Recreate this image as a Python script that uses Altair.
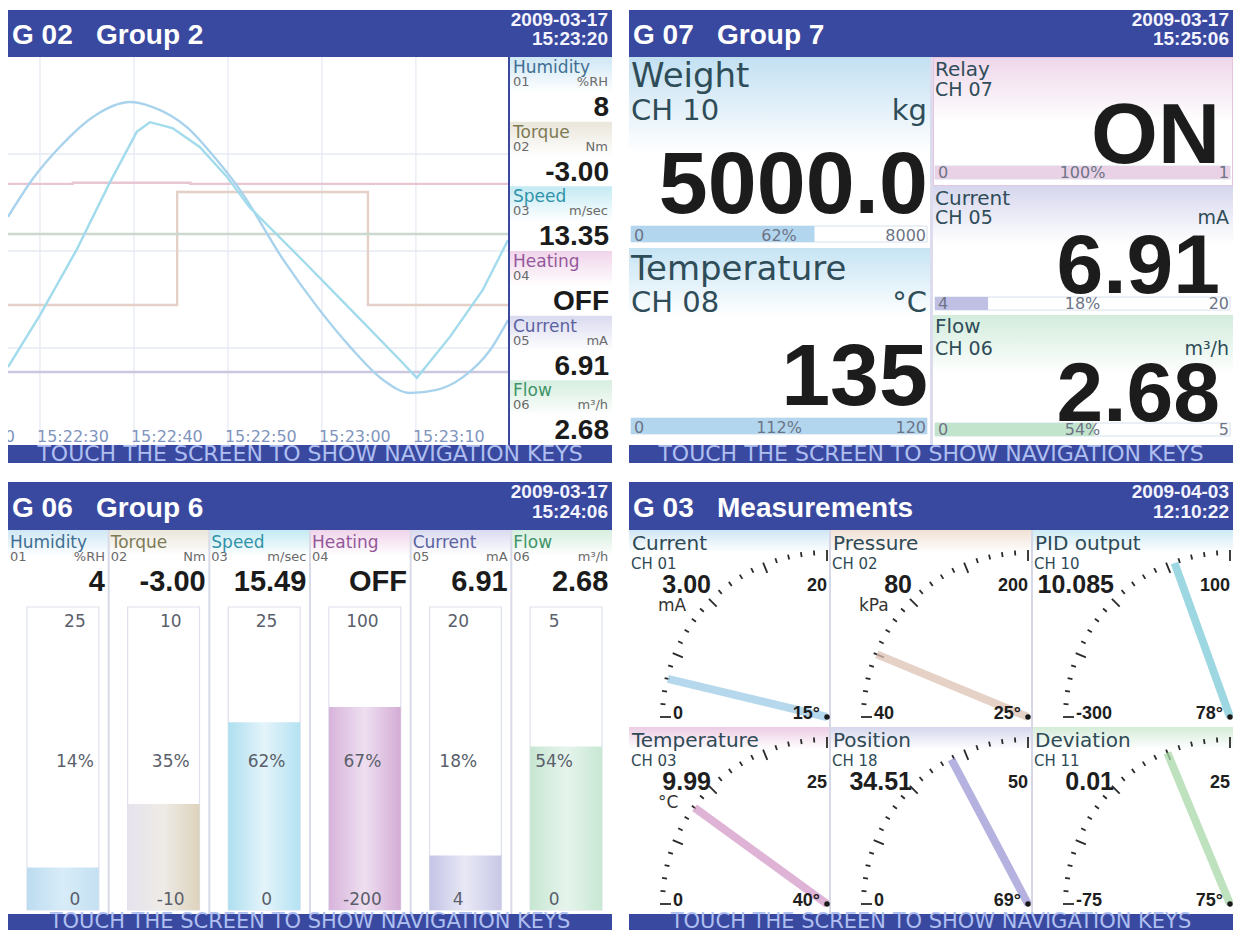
import altair as alt
import pandas as pd

# ============================== data ==============================
HEADERS = [("G 02", "Group 2", "2009-03-17", "15:23:20"),
           ("G 07", "Group 7", "2009-03-17", "15:25:06"),
           ("G 06", "Group 6", "2009-03-17", "15:24:06"),
           ("G 03", "Measurements", "2009-04-03", "12:10:22")]
FOOTER = "TOUCH THE SCREEN TO SHOW NAVIGATION KEYS"

CH_NAMES = ["Humidity", "Torque", "Speed", "Heating", "Current", "Flow"]
CH_NUMS = ["01", "02", "03", "04", "05", "06"]
CH_UNITS = ["%RH", "Nm", "m/sec", "", "mA", "m³/h"]

# --- G 02 trend (values in % of each channel span)
HUM_TIME = ["15:22:26.6", "15:22:29.3", "15:22:32.1", "15:22:35.6", "15:22:39.6", "15:22:42.0",
            "15:22:45.6", "15:22:48.8", "15:22:51.3", "15:22:55.9", "15:22:59.5", "15:23:03.0",
            "15:23:06.5", "15:23:09.4", "15:23:12.2", "15:23:15.0", "15:23:17.9", "15:23:19.8"]
HUM_PCT = [58.8, 68.8, 76.8, 84.5, 88.4, 87.1, 82.0, 73.5, 65.7, 47.7, 35.6, 25.3,
           16.8, 13.4, 14.2, 17.5, 24.5, 32.2]
SPD_TIME = ["15:22:26.6", "15:22:30.0", "15:22:33.9", "15:22:37.4", "15:22:40.3", "15:22:41.7",
            "15:22:44.1", "15:22:47.0", "15:22:49.9", "15:22:52.3", "15:22:57.7", "15:23:03.0",
            "15:23:08.3", "15:23:10.1", "15:23:13.6", "15:23:17.1", "15:23:19.8"]
SPD_PCT = [20.1, 33.5, 50.3, 67.5, 80.7, 83.2, 81.7, 76.8, 69.1, 61.3, 48.2, 35.1,
           21.9, 17.3, 27.8, 39.9, 52.8]
TRQ_TIME = ["15:22:26.6", "15:22:44.6", "15:23:04.9", "15:23:19.8"]
TRQ_PCT = [36.1, 65.2, 36.1, 36.1]
HEAT_TIME = ["15:22:26.6", "15:22:33.5", "15:22:46.0", "15:23:19.8"]
HEAT_PCT = [67.3, 67.6, 67.3, 67.3]
FLOW_TIME = ["15:22:26.6", "15:23:19.8"]
FLOW_PCT = [54.4, 54.4]
CUR_TIME = ["15:22:26.6", "15:23:19.8"]
CUR_PCT = [18.8, 18.8]
T_START, T_END = "15:22:26.6", "15:23:19.8"
TIME_LABELS = ["15:22:20", "15:22:30", "15:22:40", "15:22:50", "15:23:00", "15:23:10"]
G02_VALUES = ["8", "-3.00", "13.35", "OFF", "6.91", "2.68"]

# --- G 07 big numbers
G07_NAMES = ["Weight", "Temperature", "Relay", "Current", "Flow"]
G07_CH = ["CH 10", "CH 08", "CH 07", "CH 05", "CH 06"]
G07_UNITS = ["kg", "°C", "", "mA", "m³/h"]
G07_VALUES = ["5000.0", "135", "ON", "6.91", "2.68"]
G07_MIN = ["0", "0", "0", "4", "0"]
G07_MAX = ["8000", "120", "1", "20", "5"]
G07_PCT = [62, 112, 100, 18, 54]

# --- G 06 bargraphs
G06_VALUES = ["4", "-3.00", "15.49", "OFF", "6.91", "2.68"]
G06_MIN = ["0", "-10", "0", "-200", "4", "0"]
G06_MAX = ["25", "10", "25", "100", "20", "5"]
G06_PCT = [14, 35, 62, 67, 18, 54]

# --- G 03 dials
G03_NAMES = ["Current", "Pressure", "PID output", "Temperature", "Position", "Deviation"]
G03_CH = ["CH 01", "CH 02", "CH 10", "CH 03", "CH 18", "CH 11"]
G03_UNITS = ["mA", "kPa", "", "°C", "", ""]
G03_VALUES = ["3.00", "80", "10.085", "9.99", "34.51", "0.01"]
G03_MIN = ["0", "40", "-300", "0", "0", "-75"]
G03_MAX = ["20", "200", "100", "25", "50", "25"]
G03_PCT = [15, 25, 78, 40, 69, 75]
DIAL_TICKS = [i / 20 for i in range(21)]

# ============================== style ==============================
W = 604
BLUE = "#3a49a0"
FOOT_COL = "#aebff0"
SANS = "DejaVu Sans"
BOLD = "Liberation Sans"
GRID = "#e6eaf3"
NB = "\u00a0"
NAME_COL = ["#3f6f92", "#7d7a55", "#2f93aa", "#94589a", "#5b62a0", "#3f9468"]
TINT = ["#cfe7f5", "#e9e6da", "#c4eaf3", "#f0d4ea", "#dadaf0", "#d6eedf"]
LINE_COL = ["#a9d3ec", "#e4d0c6", "#a2dcec", "#e8c6d2", "#cbc7df", "#cad8cd"]
BAR_EDGE = ["#bcdcf0", "#e6e3ee", "#aedff0", "#d8b4dc", "#c4c4e6", "#c6e6d2"]
BAR_MID = ["#d8ecf8", "#eeebe6", "#e4f4fa", "#eedff0", "#e8e8f6", "#e6f4ec"]
BAR_RIGHT = ["#c4e0f2", "#ddd2bc", "#b4e2f2", "#d4acd6", "#c8c8e6", "#c8e8d4"]

OX, OY = 0, 0


def origin(x, y):
    global OX, OY
    OX, OY = x, y


def secs(t):
    h, m, s = t.split(":")
    return int(h) * 3600 + int(m) * 60 + float(s)


def rects(rows, **mark):
    df = pd.DataFrame([(a + OX, b + OY, c + OX, d + OY) for a, b, c, d in rows],
                      columns=["x0", "y0", "x1", "y1"])
    return alt.Chart(df).mark_rect(**mark).encode(
        x=alt.X("x0:Q", scale=None, axis=None), x2="x1:Q",
        y=alt.Y("y0:Q", scale=None, axis=None), y2="y1:Q")


def texts(rows, align="left", weight="normal", font=SANS):
    df = pd.DataFrame([(x + OX, y + OY, t, s, c) for x, y, t, s, c in rows],
                      columns=["x", "y", "t", "s", "c"])
    return alt.Chart(df).mark_text(align=align, baseline="alphabetic", font=font,
                                   fontWeight=weight).encode(
        x=alt.X("x:Q", scale=None, axis=None), y=alt.Y("y:Q", scale=None, axis=None),
        text="t:N", size=alt.Size("s:Q", scale=None, legend=None),
        color=alt.Color("c:N", scale=None, legend=None))


def vgrad(top, stop=0.5, bottom="#ffffff"):
    return {"gradient": "linear", "x1": 0, "y1": 0, "x2": 0, "y2": 1,
            "stops": [{"offset": 0, "color": top}, {"offset": stop, "color": bottom},
                      {"offset": 1, "color": bottom}]}


def hgrad(left, mid, right):
    return {"gradient": "linear", "x1": 0, "y1": 0, "x2": 1, "y2": 0,
            "stops": [{"offset": 0, "color": left}, {"offset": 0.5, "color": mid},
                      {"offset": 1, "color": right}]}


def frame(hh, ft, fb, fsize, head):
    code, title, date, time = head
    return [
        rects([(0, 0, W, hh), (0, ft, W, fb)], fill=BLUE),
        texts([(4, hh - 13, f"{code}{NB * 3}{title}", 28, "#ffffff")], weight="bold", font=BOLD),
        texts([(600, 16, date, 19, "#f4f4ff"), (600, hh - 12, time, 19, "#f4f4ff")],
              align="right", weight="bold", font=BOLD),
        texts([(W / 2, fb - 2, FOOTER, fsize, FOOT_COL)], align="center"),
    ]


layers = []

# ============================== G 02 trend ==============================
origin(0, 2)
xs = alt.Scale(domain=[secs(T_START), secs(T_END)], range=[OX, OX + 500], nice=False, zero=False)
ys = alt.Scale(domain=[0, 100], range=[OY + 435, OY + 47], nice=False, zero=False)

grid_v = pd.DataFrame({"sec": [secs(t) for t in TIME_LABELS[1:]], "y0": OY + 47, "y1": OY + 435})
layers.append(alt.Chart(grid_v).mark_rule(color=GRID, strokeWidth=1.3).encode(
    x=alt.X("sec:Q", scale=xs, axis=None), y=alt.Y("y0:Q", scale=None, axis=None), y2="y1:Q"))
grid_h = pd.DataFrame({"pct": [25, 50, 75], "x0": OX, "x1": OX + 500})
layers.append(alt.Chart(grid_h).mark_rule(color=GRID, strokeWidth=1.3).encode(
    y=alt.Y("pct:Q", scale=ys, axis=None), x=alt.X("x0:Q", scale=None, axis=None), x2="x1:Q"))


def trend(parts, interp):
    df = pd.concat([pd.DataFrame({"name": n, "sec": [secs(t) for t in tt], "pct": pp})
                    for n, tt, pp in parts])
    return alt.Chart(df).mark_line(interpolate=interp, strokeWidth=2.4).encode(
        x=alt.X("sec:Q", scale=xs, axis=None), y=alt.Y("pct:Q", scale=ys, axis=None),
        color=alt.Color("name:N", scale=alt.Scale(domain=CH_NAMES, range=LINE_COL), legend=None),
        detail="name:N")


layers.append(trend([("Torque", TRQ_TIME, TRQ_PCT), ("Heating", HEAT_TIME, HEAT_PCT),
                     ("Flow", FLOW_TIME, FLOW_PCT), ("Current", CUR_TIME, CUR_PCT)], "step-after"))
layers.append(trend([("Humidity", HUM_TIME, HUM_PCT)], "monotone"))
layers.append(trend([("Speed", SPD_TIME, SPD_PCT)], "linear"))

# time labels (the first one runs off the left edge of the screen)
lab = pd.DataFrame({"sec": [secs(t) for t in TIME_LABELS], "t": TIME_LABELS, "y": OY + 432})
layers.append(alt.Chart(lab).mark_text(align="left", baseline="alphabetic", dx=-3, font=SANS,
                                       fontSize=16, color="#7f95bd").encode(
    x=alt.X("sec:Q", scale=xs, axis=None), y=alt.Y("y:Q", scale=None, axis=None), text="t:N"))
# white margin strip left of the screen hides the run-off label part
layers.append(alt.Chart(pd.DataFrame({"x0": [-8], "x1": [0], "y0": [OY + 47], "y1": [OY + 435]}))
              .mark_rect(fill="#ffffff").encode(
    x=alt.X("x0:Q", scale=None, axis=None), x2="x1:Q",
    y=alt.Y("y0:Q", scale=None, axis=None), y2="y1:Q"))

tops = [47 + i * 388 / 6 for i in range(6)]
for i, t in enumerate(tops):
    layers.append(rects([(502, t, W, t + 388 / 6)], fill=vgrad(TINT[i], 0.55)))
layers.append(rects([(500, 47, 502, 435)], fill=BLUE))
layers.append(texts([(505, t + 16, CH_NAMES[i], 17, NAME_COL[i]) for i, t in enumerate(tops)]
                    + [(505, t + 29, CH_NUMS[i], 13, "#6a6a6a") for i, t in enumerate(tops)]))
layers.append(texts([(600, t + 29, CH_UNITS[i], 13, "#6a6a6a") for i, t in enumerate(tops)
                     if CH_UNITS[i]], align="right"))
layers.append(texts([(601, t + 59, G02_VALUES[i], 28, "#1b1b1b") for i, t in enumerate(tops)],
                    align="right", weight="bold", font=BOLD))
layers += frame(47, 435, 453, 22, HEADERS[0])

# ============================== G 07 big numbers ==============================
origin(621, 2)
# (x0, x1, y0, y1, name_base, ch_base, val_base, bar_y0, bar_y1, name_size, ch_size,
#  val_size, val_right, unit_right, tint, stop, bar colours)
G07_LAYOUT = [
    (0, 301, 47, 238, 77, 110, 203, 216, 232, 34, 29, 88, 299, 298, "#c2e0f2", 0.5,
     ("#e4f2fa", "#b2d6ee")),
    (0, 301, 238, 435, 270, 302, 395, 408, 424, 34, 29, 88, 299, 298, "#c6e4f4", 0.35,
     ("#e4f2fa", "#b2d6ee")),
    (304, W, 47, 176, 66, 86, 153, 156, 169, 20, 19, 86, 591, 600, "#eed6ea", 0.5,
     ("#fbf3f9", "#ead2e6")),
    (304, W, 176, 305, 195, 214, 283, 287, 300, 20, 19, 84, 591, 600, "#d6d6ee", 0.45,
     ("#ececf8", "#c0c0e4")),
    (304, W, 305, 435, 323, 345, 411, 413, 426, 20, 19, 84, 591, 600, "#d2ecdc", 0.45,
     ("#eaf6ee", "#c2e4cc")),
]
for i, L in enumerate(G07_LAYOUT):
    x0, x1, y0, y1, nb, cb, vb, by0, by1, ns, cs, vs, vr, ur, tint, stop, bc = L
    extra = dict(stroke="#e6c6de", strokeWidth=2) if i == 2 else {}
    layers.append(rects([(x0, y0, x1, y1)], fill=vgrad(tint, stop), **extra))
layers.append(rects([(301, 47, 304, 435)], fill="#dcdcee"))
for i, L in enumerate(G07_LAYOUT):
    x0, x1, y0, y1, nb, cb, vb, by0, by1, ns, cs, vs, vr, ur, tint, stop, bc = L
    bx0, bx1 = x0 + 2, x1 - 3
    layers.append(rects([(bx0, by0, bx1, by1)], fill="#ffffff", stroke="#d6e0ec", strokeWidth=1))
    bs = alt.Scale(domain=[0, 100], range=[OX + bx0, OX + bx1], clamp=True, nice=False, zero=True)
    bdf = pd.DataFrame({"z": [0], "pct": [G07_PCT[i]], "y0": [OY + by0], "y1": [OY + by1]})
    layers.append(alt.Chart(bdf).mark_rect(fill=vgrad(bc[0], 0.0, bc[1])).encode(
        x=alt.X("z:Q", scale=bs, axis=None), x2="pct:Q",
        y=alt.Y("y0:Q", scale=None, axis=None), y2="y1:Q"))
    layers.append(texts([(bx0 + 3, by1 - 1, G07_MIN[i], 16, "#6d7486")]))
    layers.append(texts([((bx0 + bx1) / 2, by1 - 1, f"{G07_PCT[i]}%", 16, "#6d7486")], align="center"))
    layers.append(texts([(bx1 - 1, by1 - 1, G07_MAX[i], 16, "#6d7486")], align="right"))
    layers.append(texts([(x0 + 2, nb, G07_NAMES[i], ns, "#2f4d58"),
                         (x0 + 2, cb, G07_CH[i], cs, "#2f4d58")]))
    if G07_UNITS[i]:
        layers.append(texts([(ur, cb, G07_UNITS[i], cs, "#2f4d58")], align="right"))
    layers.append(texts([(vr, vb, G07_VALUES[i], vs, "#1c1c1c")], align="right", weight="bold",
                        font=BOLD))
layers += frame(47, 435, 453, 22, HEADERS[1])

# ============================== G 06 bargraphs ==============================
origin(0, 474)
lefts = [i * W / 6 for i in range(6)]
for i, l in enumerate(lefts):
    layers.append(rects([(l, 48, l + W / 6, 100)], fill=vgrad(TINT[i], 0.5)))
layers.append(rects([(l - 1, 48, l + 1, 432) for l in lefts[1:]], fill="#d8dae8"))
band = alt.Scale(domain=CH_NAMES, range=[OX + 19, OX + 594], paddingInner=0.2857, paddingOuter=0)
bar_y = alt.Scale(domain=[0, 100], range=[OY + 428, OY + 125], nice=False, zero=True)
boxes = pd.DataFrame({"name": CH_NAMES, "y0": OY + 125, "y1": OY + 428})
layers.append(alt.Chart(boxes).mark_rect(fill="#ffffff", stroke="#dde1ec", strokeWidth=1.2).encode(
    x=alt.X("name:N", scale=band, axis=None), y=alt.Y("y0:Q", scale=None, axis=None), y2="y1:Q"))
for i, n in enumerate(CH_NAMES):
    bdf = pd.DataFrame({"name": [n], "pct": [G06_PCT[i]], "z": [0]})
    layers.append(alt.Chart(bdf).mark_rect(fill=hgrad(BAR_EDGE[i], BAR_MID[i], BAR_RIGHT[i])).encode(
        x=alt.X("name:N", scale=band, axis=None),
        y=alt.Y("pct:Q", scale=bar_y, axis=None), y2="z:Q"))
blab = pd.DataFrame({"name": CH_NAMES * 3,
                     "t": G06_MAX + [f"{p}%" for p in G06_PCT] + G06_MIN,
                     "y": [OY + 145] * 6 + [OY + 285] * 6 + [OY + 423] * 6})
layers.append(alt.Chart(blab).mark_text(align="center", baseline="alphabetic", font=SANS, fontSize=17,
                                        color="#5a5f6b").encode(
    x=alt.X("name:N", scale=band, axis=None), y=alt.Y("y:Q", scale=None, axis=None), text="t:N"))
layers.append(texts([(l + 2, 66, CH_NAMES[i], 17, NAME_COL[i]) for i, l in enumerate(lefts)]
                    + [(l + 2, 79, CH_NUMS[i], 13, "#6a6a6a") for i, l in enumerate(lefts)]))
layers.append(texts([(l + 97, 79, CH_UNITS[i], 13, "#6a6a6a") for i, l in enumerate(lefts)
                     if CH_UNITS[i]], align="right"))
layers.append(texts([(l + 97, 109, G06_VALUES[i], 29, "#1b1b1b") for i, l in enumerate(lefts)],
                    align="right", weight="bold", font=BOLD))
layers += frame(48, 432, 448, 21, HEADERS[2])

# ============================== G 03 dials ==============================
origin(621, 474)
NEEDLE = ["#9ccbe6", "#dcc2b2", "#7ccbd8", "#d49ac8", "#9e98d6", "#a8d8a8"]
DTINT = ["#cfe6f4", "#f0e0d4", "#cdeaf4", "#eccce4", "#d6d6ee", "#d4ecd8"]
cols = [0, 201, 403]
rows = [(48, 245), (245, 432)]
cells = [(c, r) for r in rows for c in cols]
for i, (cl, (rt, rb)) in enumerate(cells):
    layers.append(rects([(cl, rt, cl + 201, rt + 45)], fill=vgrad(DTINT[i], 0.5)))
layers.append(rects([(200, 48, 202, 432), (402, 48, 404, 432)], fill="#d6d8e8"))
R = 167
for i, (cl, (rt, rb)) in enumerate(cells):
    cx, cy = OX + cl + 198, OY + rb - 10
    gx = alt.Scale(domain=[-1, 0], range=[cx - R, cx], nice=False, zero=False)
    gy = alt.Scale(domain=[0, 1], range=[cy, cy - R], nice=False, zero=False)
    tdf = pd.DataFrame({"f": DIAL_TICKS,
                        "ri": [1 - (11 if k % 5 == 0 else 5) / R for k in range(len(DIAL_TICKS))]})
    layers.append(alt.Chart(tdf).transform_calculate(
        a="datum.f*PI/2", xo="-cos(datum.a)", yo="sin(datum.a)",
        xi="-cos(datum.a)*datum.ri", yi="sin(datum.a)*datum.ri").mark_rule(
        color="#2a2a2a", strokeWidth=1.8).encode(
        x=alt.X("xo:Q", scale=gx, axis=None), y=alt.Y("yo:Q", scale=gy, axis=None),
        x2="xi:Q", y2="yi:Q"))
    ndf = pd.DataFrame({"pct": [G03_PCT[i]], "z": [0.0]})
    layers.append(alt.Chart(ndf).transform_calculate(
        a="datum.pct/100*PI/2", xn="-cos(datum.a)*0.98", yn="sin(datum.a)*0.98").mark_rule(
        color=NEEDLE[i], strokeWidth=8, opacity=0.75).encode(
        x=alt.X("xn:Q", scale=gx, axis=None), y=alt.Y("yn:Q", scale=gy, axis=None),
        x2="z:Q", y2="z:Q"))
    layers.append(alt.Chart(ndf).mark_point(filled=True, size=30, color="#1a1a1a", opacity=1).encode(
        x=alt.X("z:Q", scale=gx, axis=None), y=alt.Y("z:Q", scale=gy, axis=None)))
layers.append(texts([(cl + 3, rt + 20, G03_NAMES[i], 20, "#2f4a55") for i, (cl, (rt, rb)) in enumerate(cells)]
                    + [(cl + 2, rt + 39, G03_CH[i], 15, "#2f4a55") for i, (cl, (rt, rb)) in enumerate(cells)]
                    + [(cl + 29, rt + 81, G03_UNITS[i], 17, "#333333")
                       for i, (cl, (rt, rb)) in enumerate(cells) if G03_UNITS[i]]))
layers.append(texts([(cl + 82, rt + 63, G03_VALUES[i], 25, "#1e1e1e") for i, (cl, (rt, rb)) in enumerate(cells)]
                    + [(cl + 198, rt + 61, G03_MAX[i], 18, "#1e1e1e") for i, (cl, (rt, rb)) in enumerate(cells)]
                    + [(cl + 191, rb - 8, f"{G03_PCT[i]}°", 18, "#1e1e1e")
                       for i, (cl, (rt, rb)) in enumerate(cells)],
                    align="right", weight="bold", font=BOLD))
layers.append(texts([(cl + 44, rb - 8, G03_MIN[i], 18, "#1e1e1e") for i, (cl, (rt, rb)) in enumerate(cells)],
                    weight="bold", font=BOLD))
layers += frame(48, 432, 448, 21, HEADERS[3])

chart = alt.layer(*layers).properties(
    width=1225, height=922,
    autosize=alt.AutoSizeParams(type="none"),
    padding={"left": 0, "top": 0, "right": 0, "bottom": 0},
    background="#ffffff",
).resolve_scale(
    x="independent", y="independent", color="independent", size="independent"
).configure_view(stroke=None)

chart.save("out.html", embed_options={"renderer": "svg", "actions": False})
